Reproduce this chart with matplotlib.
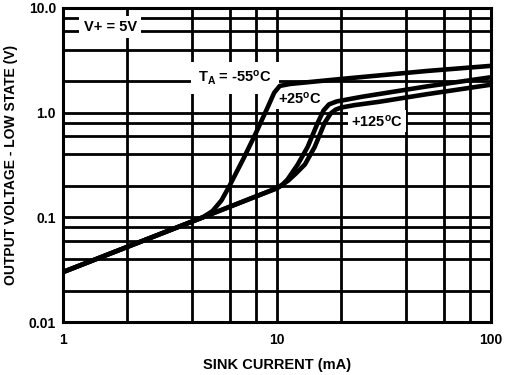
import numpy as np
import matplotlib
matplotlib.use('Agg')
from matplotlib import pyplot as plt
from matplotlib.ticker import LogLocator, FixedLocator, FixedFormatter, NullFormatter

plt.rcParams['font.family'] = ['Liberation Sans', 'DejaVu Sans']
plt.rcParams['font.weight'] = 'bold'
plt.rcParams['mathtext.default'] = 'regular'

# curve data (sink current mA, output voltage V)
i_m55 = [1, 4.5, 5.0, 5.5, 6.0, 7.0, 8.0, 9.0, 9.7, 10.3, 11.5, 20, 50, 100]
v_m55 = [0.03, 0.1, 0.115, 0.145, 0.2, 0.37, 0.65, 1.1, 1.55, 1.8, 1.88, 2.1, 2.5, 2.8]

i_p25 = [1, 4.5, 10, 10.6, 11.2, 12.5, 13.9, 15.5, 16.5, 17.5, 19, 25, 50, 100]
v_p25 = [0.03, 0.1, 0.19, 0.205, 0.23, 0.32, 0.47, 0.8, 1.05, 1.2, 1.28, 1.42, 1.78, 2.18]

i_p125 = [1, 4.5, 10, 10.6, 11.3, 12.2, 13.5, 15.0, 16.7, 17.8, 18.8, 20, 23, 30, 50, 100]
v_p125 = [0.03, 0.1, 0.19, 0.205, 0.225, 0.26, 0.32, 0.47, 0.8, 0.98, 1.07, 1.12, 1.18, 1.27, 1.5, 1.85]

x_ticks = [1, 10, 100]
x_labels = ['1', '10', '100']
y_ticks = [0.01, 0.1, 1, 10]
y_labels = ['0.01', '0.1', '1.0', '10.0']

fig = plt.figure(figsize=(5.18, 3.75), dpi=100)
ax = fig.add_axes([0.1216, 0.1413, 0.8263, 0.8374])

for xs, ys in [(i_m55, v_m55), (i_p25, v_p25), (i_p125, v_p125)]:
    ax.plot(xs, ys, color='black', lw=3.3, zorder=5, solid_capstyle='butt')

ax.set_xscale('log')
ax.set_yscale('log')
ax.set_xlim(1, 100)
ax.set_ylim(0.01, 10)

ax.xaxis.set_major_locator(FixedLocator(x_ticks))
ax.xaxis.set_major_formatter(FixedFormatter(x_labels))
ax.yaxis.set_major_locator(FixedLocator(y_ticks))
ax.yaxis.set_major_formatter(FixedFormatter(y_labels))
ax.xaxis.set_minor_locator(LogLocator(base=10, subs=[2, 4, 6, 8]))
ax.yaxis.set_minor_locator(LogLocator(base=10, subs=[2, 4, 6, 8]))
ax.xaxis.set_minor_formatter(NullFormatter())
ax.yaxis.set_minor_formatter(NullFormatter())

ax.grid(which='both', color='black', lw=2.0)
ax.set_axisbelow(True)
ax.tick_params(which='both', length=0, labelsize=10)
ax.tick_params(axis='x', pad=8)
ax.tick_params(axis='y', pad=5)
for s in ax.spines.values():
    s.set_linewidth(2.2)
    s.set_zorder(6)

ax.set_xlabel('SINK CURRENT (mA)', fontsize=10.5, fontweight='bold')
ax.set_ylabel('OUTPUT VOLTAGE - LOW STATE (V)', fontsize=10, fontweight='bold')
ax.xaxis.set_label_coords(0.5, -0.115)
ax.yaxis.set_label_coords(-0.105, 0.5)

ax.text(1.66, 6.6, 'V+ = 5V', ha='center', va='center', fontsize=10.5,
        fontweight='bold', bbox=dict(facecolor='white', edgecolor='none', pad=3), zorder=4)
ax.text(6.37, 2.14, r'T$_A$ = -55$^o$C', ha='center', va='center', fontsize=10.5,
        fontweight='bold', bbox=dict(facecolor='white', edgecolor='none', pad=5), zorder=4)
ax.text(12.8, 1.35, r'+25$^o$C', ha='center', va='center', fontsize=10.5,
        fontweight='bold', bbox=dict(facecolor='white', edgecolor='none', pad=1.5), zorder=4)
ax.text(29.3, 0.83, r'+125$^o$C', ha='center', va='center', fontsize=10.5,
        fontweight='bold', bbox=dict(facecolor='white', edgecolor='none', pad=2), zorder=4)

fig.savefig('out.png', dpi=100)
